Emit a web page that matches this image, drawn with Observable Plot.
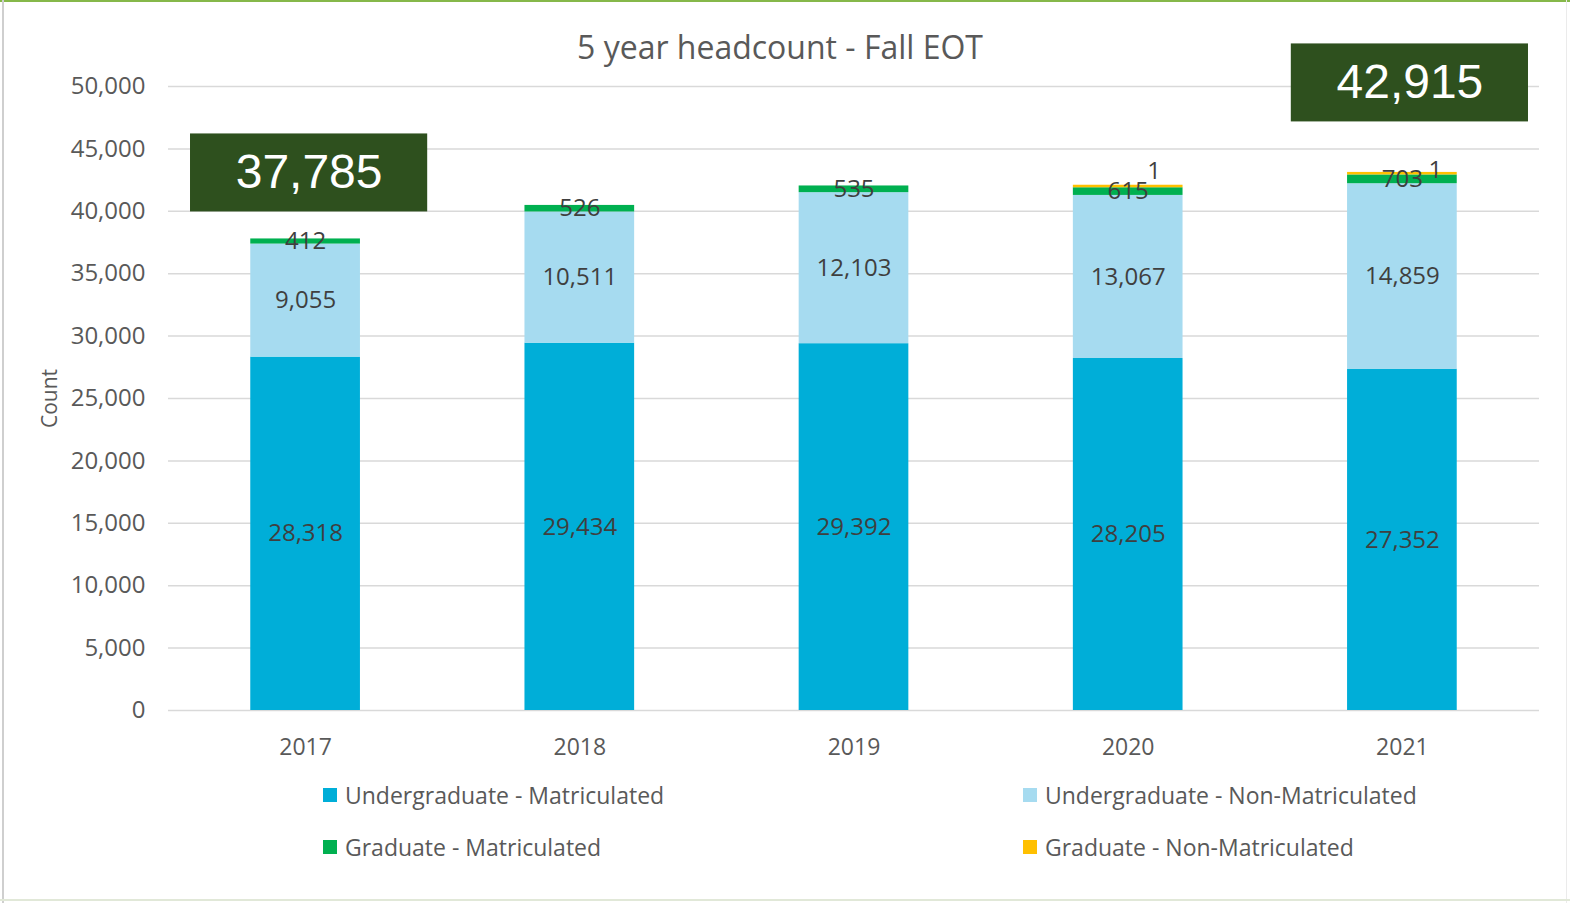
<!DOCTYPE html>
<html>
<head>
<meta charset="utf-8">
<script src="https://cdn.jsdelivr.net/npm/d3@7"></script>
<script src="https://cdn.jsdelivr.net/npm/@observablehq/plot@0.6"></script>
<style>
  html, body { margin: 0; padding: 0; background: #fff; }
  #wrap { position: relative; width: 1570px; height: 903px; overflow: hidden; background: #fff; font-family: "Open Sans", sans-serif; }
  .bt { position: absolute; left: 0; top: 0; width: 1570px; height: 2px; background: #86b84a; }
  .bl { position: absolute; left: 2px; top: 0; width: 2px; height: 903px; background: #cfcfcf; }
  .br { position: absolute; left: 1566px; top: 0; width: 1px; height: 903px; background: #ebebeb; }
  .bb { position: absolute; left: 0; top: 899px; width: 1570px; height: 2px; background: #e1e8d8; }
  #title { position: absolute; left: 0; top: 27px; width: 1560px; text-align: center; font-size: 32px; line-height: 40px; color: #595959; }
  #chart { position: absolute; left: 0; top: 0; }
  .lg { position: absolute; display: flex; align-items: center; height: 30px; font-size: 23px; color: #595959; white-space: pre; }
  .sw { width: 14px; height: 14px; margin-right: 8px; }
</style>
</head>
<body>
<div id="wrap">
  <div class="bt"></div><div class="bl"></div><div class="br"></div><div class="bb"></div>
  <div id="chart"></div>
  <div id="title">5 year headcount - Fall EOT</div>
  <div id="legend"></div>
</div>
<script>
const years = ["2017", "2018", "2019", "2020", "2021"];
const underMat = [28318, 29434, 29392, 28205, 27352];
const underNonMat = [9055, 10511, 12103, 13067, 14859];
const gradMat = [412, 526, 535, 615, 703];
const gradNonMat = [0, 0, 0, 1, 1];
const seriesNames = [
  "Undergraduate - Matriculated",
  "Undergraduate - Non-Matriculated",
  "Graduate - Matriculated",
  "Graduate - Non-Matriculated"
];
const seriesColors = ["#00aed8", "#a6dbf0", "#00b050", "#ffc000"];
const yTicks = [0, 5000, 10000, 15000, 20000, 25000, 30000, 35000, 40000, 45000, 50000];

const seriesValues = [underMat, underNonMat, gradMat, gradNonMat];
const fmt = d3.format(",");

const rows = [];
years.forEach((year, i) => {
  seriesValues.forEach((vals, s) => {
    if (vals[i] > 0) rows.push({year, series: seriesNames[s], value: vals[i]});
  });
});
const totals = years.map((year, i) => ({year, total: d3.sum(seriesValues, v => v[i])}));
const gnRows = years.map((year, i) => ({
  year,
  series: seriesNames[3],
  value: gradNonMat[i],
  base: totals[i].total - gradNonMat[i],
  total: totals[i].total
})).filter(d => d.value > 0);

const box2017 = totals.filter(d => d.year === "2017");
const box2021 = totals.filter(d => d.year === "2021");
const boxColor = "#2e501e";

const chart = Plot.plot({
  width: 1570,
  height: 770,
  marginTop: 86,
  marginBottom: 60,
  marginLeft: 168,
  marginRight: 31,
  style: {fontFamily: "Open Sans, sans-serif", background: "transparent", overflow: "visible"},
  x: {domain: years, paddingInner: 0.6, paddingOuter: 0.3, round: false, axis: null},
  y: {domain: [0, 50000], axis: null},
  color: {domain: seriesNames, range: seriesColors},
  marks: [
    Plot.gridY(yTicks, {stroke: "#d9d9d9", strokeOpacity: 1, strokeWidth: 1.5}),
    Plot.axisY(yTicks, {tickFormat: fmt, tickSize: 0, tickPadding: 23, fontSize: 24, color: "#595959", label: null}),
    Plot.axisX({tickSize: 0, tickPadding: 28, fontSize: 23, color: "#595959", label: null}),
    Plot.text(["Count"], {frameAnchor: "left", textAnchor: "middle", text: d => d, dx: -118, rotate: -90, fontSize: 21, fill: "#595959"}),
    Plot.barY(rows, Plot.stackY({x: "year", y: "value", z: "series", order: seriesNames, fill: "series"})),
    Plot.barY(gnRows, {x: "year", y1: "base", y2: "total", fill: "series", insetTop: -2.5}),
    Plot.text(rows, Plot.stackY({
      x: "year", y: "value", z: "series", order: seriesNames,
      text: d => d.series === seriesNames[3] ? null : fmt(d.value),
      fill: "#3f3f3f", fontSize: 24
    })),
    Plot.text(gnRows.filter(d => d.year === "2020"), {x: "year", y: "total", text: d => fmt(d.value), dx: 26, dy: -16, fill: "#3f3f3f", fontSize: 24}),
    Plot.text(gnRows.filter(d => d.year === "2021"), {x: "year", y: "total", text: d => fmt(d.value), dx: 33, dy: -5, fill: "#3f3f3f", fontSize: 24}),
    Plot.barY(box2017, {x: "year", y1: "total", y2: "total", fill: boxColor, dx: 3.5, insetLeft: -63.75, insetRight: -63.75, insetTop: -105, insetBottom: 27}),
    Plot.text(box2017, {x: "year", y: "total", text: d => fmt(d.total), dx: 3.5, dy: -66, fill: "white", fontSize: 48, fontFamily: "Liberation Sans, Arial, sans-serif"}),
    Plot.barY(box2021, {x: "year", y1: "total", y2: "total", fill: boxColor, dx: 7.5, insetLeft: -63.75, insetRight: -63.75, insetTop: -131, insetBottom: 53}),
    Plot.text(box2021, {x: "year", y: "total", text: d => fmt(d.total), dx: 7.5, dy: -92, fill: "white", fontSize: 48, fontFamily: "Liberation Sans, Arial, sans-serif"})
  ]
});
document.getElementById("chart").appendChild(chart);

// Legend (two columns, two rows)
const legendPos = [
  {left: 323, top: 780},
  {left: 1023, top: 780},
  {left: 323, top: 832},
  {left: 1023, top: 832}
];
const legendOrder = [0, 1, 2, 3];
const legend = document.getElementById("legend");
legendOrder.forEach((s, k) => {
  const item = document.createElement("div");
  item.className = "lg";
  item.style.left = legendPos[k].left + "px";
  item.style.top = legendPos[k].top + "px";
  const sw = document.createElement("div");
  sw.className = "sw";
  sw.style.background = seriesColors[s];
  const label = document.createElement("span");
  label.textContent = seriesNames[s];
  item.appendChild(sw);
  item.appendChild(label);
  legend.appendChild(item);
});
</script>
</body>
</html>
